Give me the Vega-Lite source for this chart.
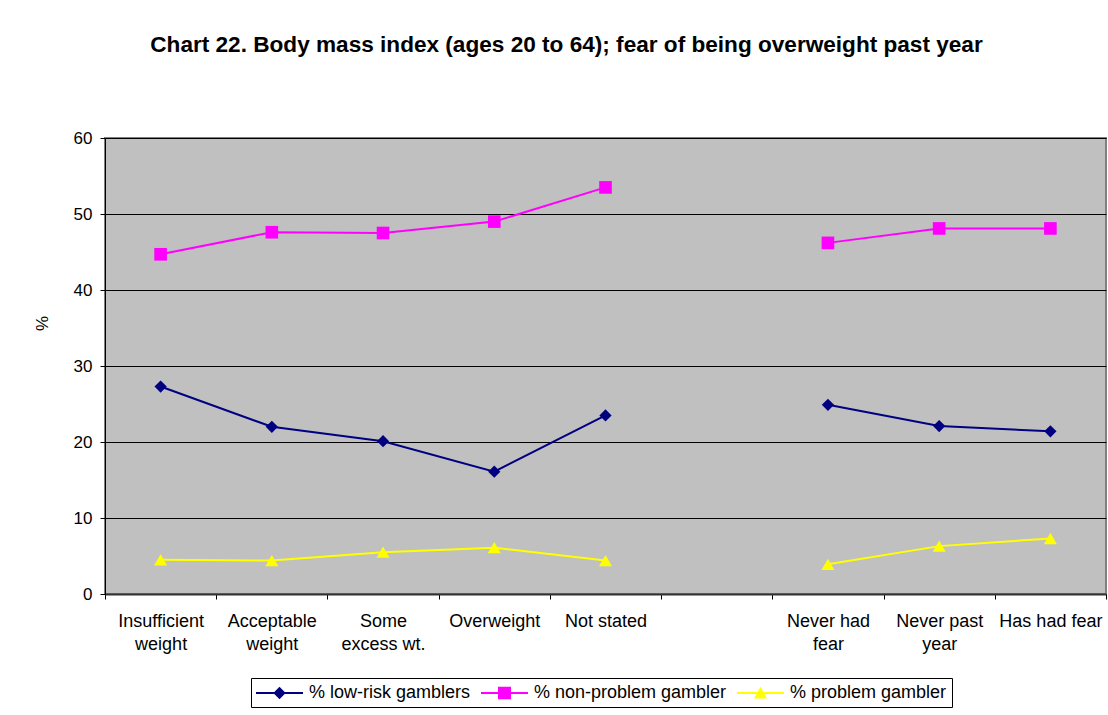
{
  "$schema": "https://vega.github.io/schema/vega-lite/v6.json",
  "width": 1001,
  "height": 456,
  "autosize": {"type": "none"},
  "padding": {"left": 105, "top": 138, "right": 2, "bottom": 121},
  "background": "white",
  "title": {
    "text": "Chart 22. Body mass index (ages 20 to 64); fear of being overweight past year",
    "font": "Liberation Sans",
    "fontSize": 22.6,
    "fontWeight": "bold",
    "color": "black",
    "anchor": "middle",
    "dx": -39,
    "offset": 72
  },
  "data": {
    "values": [
      {"cat": "Insufficient|weight", "series": "% low-risk gamblers", "seg": "a", "value": 27.3},
      {"cat": "Acceptable|weight", "series": "% low-risk gamblers", "seg": "a", "value": 22.0},
      {"cat": "Some|excess wt.", "series": "% low-risk gamblers", "seg": "a", "value": 20.1},
      {"cat": "Overweight", "series": "% low-risk gamblers", "seg": "a", "value": 16.1},
      {"cat": "Not stated", "series": "% low-risk gamblers", "seg": "a", "value": 23.5},
      {"cat": "Never had|fear", "series": "% low-risk gamblers", "seg": "b", "value": 24.9},
      {"cat": "Never past|year", "series": "% low-risk gamblers", "seg": "b", "value": 22.1},
      {"cat": "Has had fear", "series": "% low-risk gamblers", "seg": "b", "value": 21.4},
      {"cat": "Insufficient|weight", "series": "% non-problem gambler", "seg": "a", "value": 44.7},
      {"cat": "Acceptable|weight", "series": "% non-problem gambler", "seg": "a", "value": 47.6},
      {"cat": "Some|excess wt.", "series": "% non-problem gambler", "seg": "a", "value": 47.5},
      {"cat": "Overweight", "series": "% non-problem gambler", "seg": "a", "value": 49.0},
      {"cat": "Not stated", "series": "% non-problem gambler", "seg": "a", "value": 53.5},
      {"cat": "Never had|fear", "series": "% non-problem gambler", "seg": "b", "value": 46.2},
      {"cat": "Never past|year", "series": "% non-problem gambler", "seg": "b", "value": 48.1},
      {"cat": "Has had fear", "series": "% non-problem gambler", "seg": "b", "value": 48.1},
      {"cat": "Insufficient|weight", "series": "% problem gambler", "seg": "a", "value": 4.5},
      {"cat": "Acceptable|weight", "series": "% problem gambler", "seg": "a", "value": 4.4},
      {"cat": "Some|excess wt.", "series": "% problem gambler", "seg": "a", "value": 5.5},
      {"cat": "Overweight", "series": "% problem gambler", "seg": "a", "value": 6.1},
      {"cat": "Not stated", "series": "% problem gambler", "seg": "a", "value": 4.4},
      {"cat": "Never had|fear", "series": "% problem gambler", "seg": "b", "value": 3.9},
      {"cat": "Never past|year", "series": "% problem gambler", "seg": "b", "value": 6.3},
      {"cat": "Has had fear", "series": "% problem gambler", "seg": "b", "value": 7.3}
    ]
  },
  "encoding": {
    "x": {
      "field": "cat",
      "type": "nominal",
      "scale": {
        "type": "band",
        "paddingInner": 0,
        "paddingOuter": 0,
        "domain": ["Insufficient|weight", "Acceptable|weight", "Some|excess wt.", "Overweight", "Not stated", "gap", "Never had|fear", "Never past|year", "Has had fear"]
      },
      "axis": {
        "title": null,
        "labelAngle": 0,
        "labelExpr": "datum.label == 'gap' ? '' : split(datum.label, '|')",
        "labelFont": "Liberation Sans",
        "labelFontSize": 18,
        "labelColor": "black",
        "labelLineHeight": 23,
        "labelPadding": 13,
        "labelBaseline": "top",
        "labelLimit": 200,
        "tickBand": "extent",
        "ticks": true,
        "tickSize": 5,
        "tickColor": "black",
        "domainColor": "#333333",
        "domainWidth": 2,
        "grid": false
      }
    },
    "y": {
      "field": "value",
      "type": "quantitative",
      "scale": {"domain": [0, 60], "nice": false, "zero": true},
      "axis": {
        "title": "%",
        "titleFont": "Liberation Sans",
        "titleFontSize": 17,
        "titleFontWeight": "normal",
        "titleColor": "black",
        "titleAngle": 270,
        "titleX": -63,
        "titleY": 185,
        "titleAlign": "center",
        "titleBaseline": "middle",
        "values": [0, 10, 20, 30, 40, 50, 60],
        "labelFont": "Liberation Sans",
        "labelFontSize": 17,
        "labelColor": "black",
        "labelPadding": 8,
        "tickSize": 5,
        "tickColor": "black",
        "domainColor": "black",
        "grid": true,
        "gridColor": "black",
        "gridWidth": 1
      }
    },
    "color": {
      "field": "series",
      "type": "nominal",
      "scale": {
        "domain": ["% low-risk gamblers", "% non-problem gambler", "% problem gambler"],
        "range": ["#000080", "#FF00FF", "#FFFF00"]
      },
      "legend": {
        "title": null,
        "orient": "none",
        "legendX": 146,
        "legendY": 540,
        "direction": "horizontal",
        "strokeColor": "black",
        "fillColor": "white",
        "padding": 5,
        "labelFont": "Liberation Sans",
        "labelFontSize": 18,
        "labelColor": "black",
        "labelLimit": 300,
        "labelOffset": 33,
        "columnPadding": 10,
        "symbolSize": 400,
        "encode": {
          "symbols": {
            "update": {
              "shape": {"signal": "datum.value == '% low-risk gamblers' ? 'M-1,-0.1L3.7,-0.1L3.7,0.1L-1,0.1Z M1.35,-0.62L1.97,0L1.35,0.62L0.73,0Z' : datum.value == '% non-problem gambler' ? 'M-1,-0.1L3.7,-0.1L3.7,0.1L-1,0.1Z M0.7,-0.62L2,-0.62L2,0.62L0.7,0.62Z' : 'M-1,-0.1L3.7,-0.1L3.7,0.1L-1,0.1Z M1.35,-0.62L2,0.55L0.7,0.55Z'"},
              "fill": {"signal": "datum.value == '% low-risk gamblers' ? '#000080' : datum.value == '% non-problem gambler' ? '#FF00FF' : '#FFFF00'"},
              "fillOpacity": {"value": 1},
              "opacity": {"value": 1},
              "strokeWidth": {"value": 0}
            }
          }
        }
      }
    }
  },
  "layer": [
    {
      "mark": {"type": "line", "strokeWidth": 2},
      "encoding": {"detail": {"field": "seg"}}
    },
    {
      "transform": [{"filter": "datum.series == '% low-risk gamblers'"}],
      "mark": {"type": "point", "shape": "diamond", "filled": true, "opacity": 1, "size": 150}
    },
    {
      "transform": [{"filter": "datum.series == '% non-problem gambler'"}],
      "mark": {"type": "point", "shape": "square", "filled": true, "opacity": 1, "size": 160}
    },
    {
      "transform": [{"filter": "datum.series == '% problem gambler'"}],
      "mark": {"type": "point", "shape": "triangle-up", "filled": true, "opacity": 1, "size": 170}
    }
  ],
  "config": {
    "view": {"fill": "#C0C0C0", "stroke": "#808080", "strokeWidth": 2},
    "axis": {"labelFont": "Liberation Sans"}
  }
}
